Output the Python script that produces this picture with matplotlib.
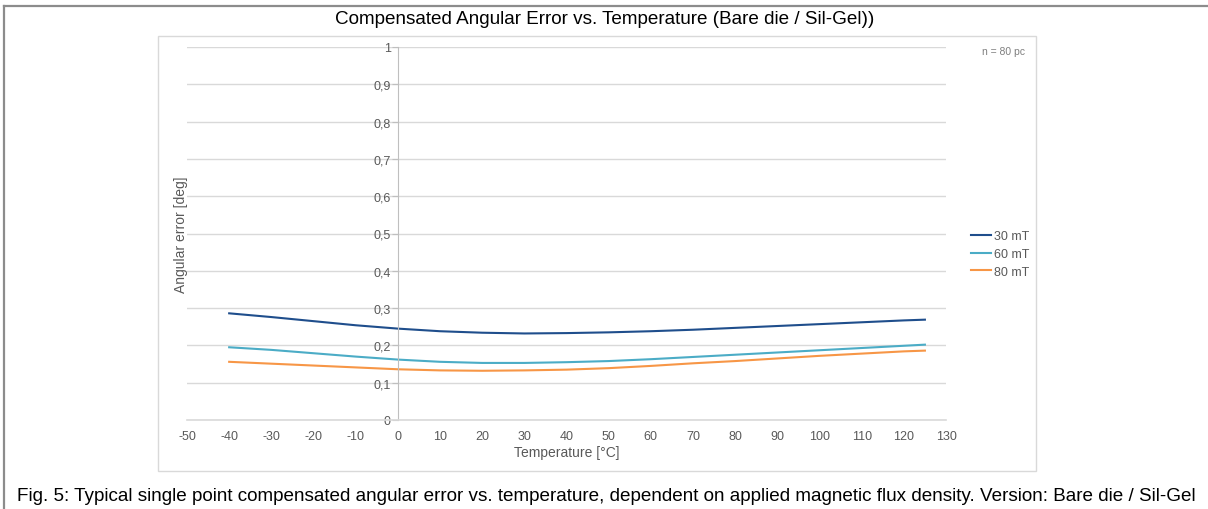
import matplotlib.pyplot as plt
from matplotlib.patches import Rectangle
from matplotlib.lines import Line2D

temps = [-40, -30, -20, -10, 0, 10, 20, 30, 40, 50, 60, 70, 80, 90, 100, 110, 120, 125]
err_30mT = [0.286, 0.276, 0.265, 0.254, 0.245, 0.238, 0.234, 0.232, 0.233, 0.235,
            0.238, 0.242, 0.247, 0.252, 0.257, 0.262, 0.267, 0.269]
err_60mT = [0.195, 0.188, 0.179, 0.170, 0.162, 0.156, 0.153, 0.153, 0.155, 0.158,
            0.163, 0.169, 0.175, 0.181, 0.187, 0.193, 0.199, 0.202]
err_80mT = [0.156, 0.151, 0.146, 0.141, 0.136, 0.133, 0.132, 0.133, 0.135, 0.139,
            0.145, 0.152, 0.158, 0.165, 0.172, 0.178, 0.184, 0.186]
labels = ["30 mT", "60 mT", "80 mT"]
colors = ["#1F4E8C", "#4BACC6", "#F79646"]
yticks = [0, 0.1, 0.2, 0.3, 0.4, 0.5, 0.6, 0.7, 0.8, 0.9, 1.0]
xticks = list(range(-50, 131, 10))

plt.rcParams['font.family'] = ['Liberation Sans', 'DejaVu Sans']

W, H = 1208, 510
fig = plt.figure(figsize=(W / 100, H / 100), dpi=100)

# outer frame (top + left)
fig.add_artist(Line2D([4 / W, 1], [1 - 7 / H, 1 - 7 / H], color="#8c8c8c", lw=1.6))
fig.add_artist(Line2D([4 / W, 4 / W], [0, 1 - 7 / H], color="#8c8c8c", lw=1.6))

# chart box
fig.add_artist(Rectangle((158 / W, 1 - 472 / H), (1036 - 158) / W, (472 - 37) / H,
                         transform=fig.transFigure, fill=False, ec="#d9d9d9", lw=1))

fig.text(605 / W, 1 - 19 / H, "Compensated Angular Error vs. Temperature (Bare die / Sil-Gel))",
         ha="center", va="center", fontsize=13.6, color="#000000")
fig.text(606 / W, 1 - 497 / H,
         "Fig. 5: Typical single point compensated angular error vs. temperature, dependent on applied magnetic flux density. Version: Bare die / Sil-Gel",
         ha="center", va="center", fontsize=13.6, color="#000000")

ax = fig.add_axes([187 / W, 1 - 421 / H, (946 - 187) / W, (421 - 48) / H])
series = [err_30mT, err_60mT, err_80mT]
for vals, lab, c in zip(series, labels, colors):
    ax.plot(temps, vals, color=c, lw=1.5, label=lab)

ax.set_xlim(-50, 130)
ax.set_ylim(0, 1)
ax.set_xticks(xticks)
ax.set_yticks(yticks)
ax.set_xticklabels([str(t) for t in xticks])
ax.set_yticklabels([("%g" % v).replace(".", ",") for v in yticks])
ax.grid(axis="y", color="#d9d9d9", lw=1)
ax.set_axisbelow(True)
for s in ["top", "right"]:
    ax.spines[s].set_visible(False)
ax.spines["left"].set_position(("data", 0))
ax.spines["left"].set_color("#bfbfbf")
ax.spines["bottom"].set_color("#d9d9d9")
ax.spines["bottom"].set_linewidth(1.2)
ax.tick_params(axis="y", colors="#bfbfbf", labelcolor="#595959", labelsize=9, length=4, pad=1)
ax.tick_params(axis="x", length=0, labelcolor="#595959", labelsize=9, pad=7)

fig.text(181 / W, 1 - 235 / H, "Angular error [deg]", rotation=90, ha="center", va="center",
         fontsize=10, color="#595959")
fig.text(567 / W, 1 - 453 / H, "Temperature [°C]", ha="center", va="center",
         fontsize=10, color="#595959")
fig.text(1025 / W, 1 - 52 / H, "n = 80 pc", ha="right", va="center", fontsize=7.5, color="#7f7f7f")

fig.legend(loc="center left", bbox_to_anchor=(960 / W, 1 - 255 / H), frameon=False,
           handlelength=1.6, handletextpad=0.2, labelspacing=0.45, fontsize=9,
           labelcolor="#595959")

fig.savefig("out.png", dpi=100)
